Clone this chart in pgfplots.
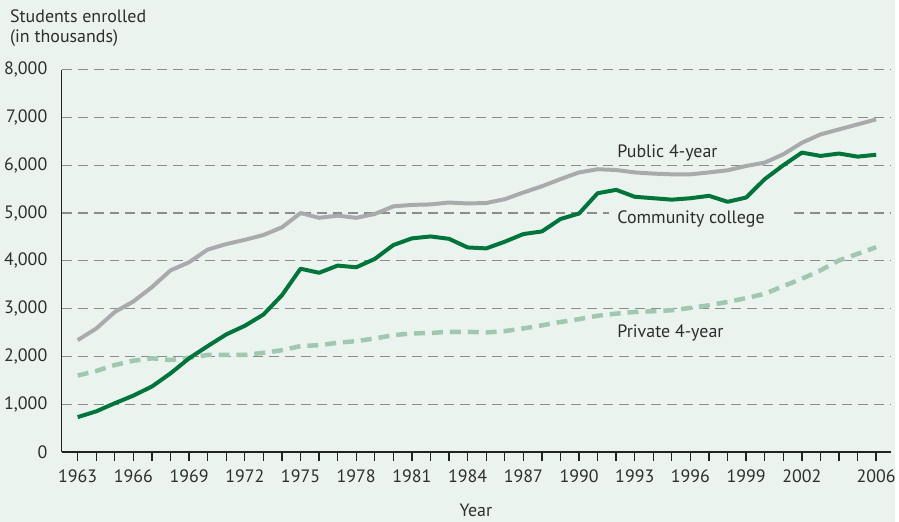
\documentclass[border=0pt]{standalone}
\usepackage{fontspec}
\setmainfont{PT Sans}
\usepackage{pgfplots}
\pgfplotsset{compat=1.18}
\definecolor{bg}{RGB}{234,243,238}
\definecolor{axisc}{RGB}{35,35,35}
\definecolor{gridc}{RGB}{140,140,140}
\definecolor{txt}{RGB}{45,45,45}
\definecolor{pubc}{RGB}{170,170,174}
\definecolor{ccc}{RGB}{0,116,58}
\definecolor{privc}{RGB}{160,200,176}
\begin{document}
\begin{tikzpicture}[x=1bp,y=1bp]
\fill[bg] (0,0) rectangle (899,524);
\begin{axis}[
  at={(62bp,70bp)}, anchor=south west,
  scale only axis, width=833bp, height=384bp,
  xmin=1962.14, xmax=2006.8, ymin=0, ymax=8000,
  axis x line=bottom, axis y line=left,
  axis line style={-, line width=1.5bp, color=axisc},
  xtick={1963,1966,...,2002,2006},
  minor xtick={1963,1964,...,2006},
  tick align=outside,
  major tick length=9bp, minor tick length=9bp,
  x tick style={line width=1.3bp, color=axisc},
  ytick={0,1000,...,8000},
  y tick style={draw=none},
  ymajorgrids,
  major grid style={dash pattern=on 10bp off 6bp, line width=1.2bp, color=gridc},
  /pgf/number format/assume math mode=true,
  xticklabel style={font=\fontsize{18bp}{21bp}\selectfont, text=txt, yshift=-5bp, /pgf/number format/1000 sep={}},
  yticklabel style={font=\fontsize{18bp}{21bp}\selectfont, text=txt, xshift=-2bp, /pgf/number format/1000 sep={,}},
  scaled y ticks=false,
  clip=false,
]
\addplot[pubc, line width=4bp, line join=round] table {
1963 2340
1964 2583
1965 2930
1966 3150
1967 3450
1968 3800
1969 3970
1970 4235
1971 4350
1972 4440
1973 4540
1974 4700
1975 5000
1976 4900
1977 4945
1978 4900
1979 4980
1980 5140
1981 5170
1982 5180
1983 5220
1984 5200
1985 5210
1986 5290
1987 5430
1988 5560
1989 5710
1990 5850
1991 5917
1992 5900
1993 5850
1994 5825
1995 5810
1996 5810
1997 5850
1998 5895
1999 5985
2000 6055
2001 6230
2002 6470
2003 6645
2004 6750
2005 6855
2006 6960
};
\addplot[privc, line width=4.5bp, dash pattern=on 11bp off 7bp, line join=round] table {
1963 1600
1964 1695
1965 1820
1966 1910
1967 1960
1968 1925
1969 1970
1970 2030
1971 2030
1972 2030
1973 2075
1974 2130
1975 2215
1976 2235
1977 2285
1978 2320
1979 2375
1980 2445
1981 2480
1982 2490
1983 2515
1984 2515
1985 2500
1986 2530
1987 2585
1988 2650
1989 2720
1990 2780
1991 2850
1992 2895
1993 2930
1994 2945
1995 2965
1996 3015
1997 3070
1998 3140
1999 3220
2000 3310
2001 3470
2002 3625
2003 3800
2004 4010
2005 4145
2006 4285
};
\addplot[ccc, line width=4bp, line join=round] table {
1963 730
1964 850
1965 1020
1966 1180
1967 1370
1968 1645
1969 1960
1970 2215
1971 2460
1972 2640
1973 2875
1974 3280
1975 3835
1976 3750
1977 3900
1978 3865
1979 4040
1980 4330
1981 4470
1982 4510
1983 4460
1984 4280
1985 4260
1986 4400
1987 4560
1988 4615
1989 4875
1990 4990
1991 5415
1992 5485
1993 5340
1994 5310
1995 5280
1996 5310
1997 5360
1998 5235
1999 5325
2000 5710
2001 6000
2002 6265
2003 6195
2004 6245
2005 6180
2006 6220
};
\end{axis}
\fill[bg] (612,304) rectangle (797,316);
\begin{scope}[every node/.style={text=txt, inner sep=0, font=\fontsize{18bp}{21bp}\selectfont}]
\node[anchor=base west] at (10,501) {Students enrolled};
\node[anchor=base west] at (10,481) {(in thousands)};
\node[anchor=base] at (478,5) {Year};
\node[anchor=base west] at (620,366) {Public 4-year};
\node[anchor=base west] at (620,299) {Community college};
\node[anchor=base west] at (620,185) {Private 4-year};
\end{scope}
\end{tikzpicture}
\end{document}
